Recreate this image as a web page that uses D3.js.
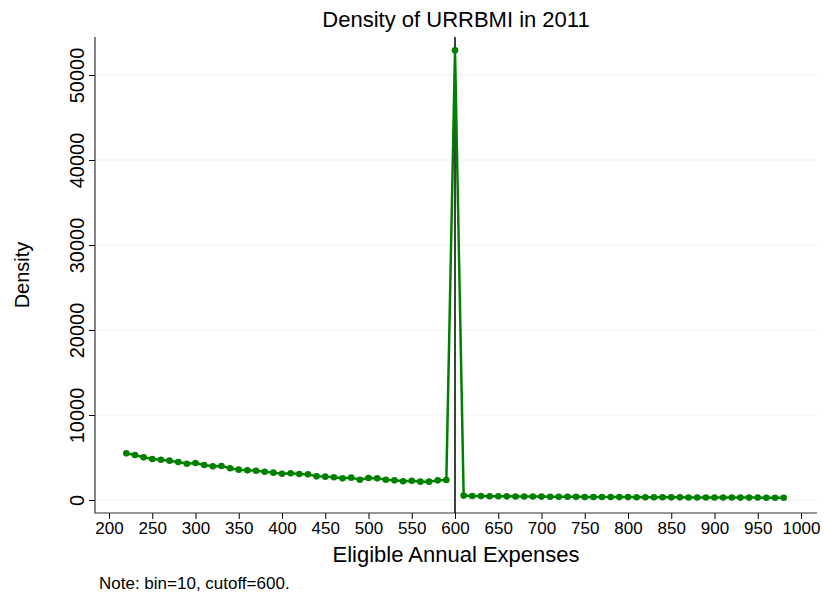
<!DOCTYPE html>
<meta charset="utf-8">
<style>
body { margin: 0; background: #fff; }
text { font-family: "Liberation Sans", Arial, sans-serif; fill: #000; }
.grid line { stroke: #eaf2f3; stroke-width: 1px; }
</style>
<svg width="825" height="597"></svg>
<script src="https://d3js.org/d3.v7.min.js"></script>
<script>

// bin midpoints (Eligible Annual Expenses)
var bins = [220, 230, 240, 250, 260, 270, 280, 290, 300, 310,
            320, 330, 340, 350, 360, 370, 380, 390, 400, 410,
            420, 430, 440, 450, 460, 470, 480, 490, 500, 510,
            520, 530, 540, 550, 560, 570, 580, 590, 600, 610,
            620, 630, 640, 650, 660, 670, 680, 690, 700, 710,
            720, 730, 740, 750, 760, 770, 780, 790, 800, 810,
            820, 830, 840, 850, 860, 870, 880, 890, 900, 910,
            920, 930, 940, 950, 960, 970, 980];

// density per bin
var density = [5490, 5290, 5020, 4820, 4740, 4630, 4470, 4270, 4350, 4120,
               3960, 4000, 3730, 3570, 3490, 3450, 3330, 3220, 3080, 3140,
               3060, 3020, 2780, 2750, 2670, 2550, 2630, 2390, 2590, 2550,
               2390, 2310, 2200, 2270, 2160, 2160, 2310, 2350, 52900, 520,
               470, 460, 450, 440, 430, 420, 420, 410, 400, 390,
               380, 380, 370, 360, 360, 350, 350, 340, 340, 330,
               330, 320, 320, 310, 310, 300, 300, 300, 290, 290,
               290, 280, 280, 280, 270, 270, 270];

var xTicks = [200, 250, 300, 350, 400, 450, 500, 550, 600, 650,
              700, 750, 800, 850, 900, 950, 1000];
var yTicks = [0, 10000, 20000, 30000, 40000, 50000];
var cutoff = 600;

var data = bins.map(function(b, i) { return {x: b, y: density[i]}; });

var svg = d3.select("svg");

var plot = {left: 95, right: 817, top: 37, bottom: 513};

var x = d3.scaleLinear().domain([200, 1000]).range([109, 801]),
    y = d3.scaleLinear().domain([0, 50000]).range([500, 75]);

// horizontal grid
svg.append("g")
    .attr("class", "grid")
  .selectAll("line")
  .data(yTicks)
  .enter().append("line")
    .attr("x1", plot.left + 1)
    .attr("x2", plot.right)
    .attr("y1", function(d) { return y(d); })
    .attr("y2", function(d) { return y(d); });

// y axis
var yAxis = svg.append("g")
    .attr("transform", "translate(" + plot.left + ",0)")
    .call(d3.axisLeft(y).tickValues(yTicks).tickSize(6).tickSizeOuter(0).tickFormat(d3.format("d")));
yAxis.select(".domain").remove();
yAxis.selectAll(".tick line").attr("stroke", "#000");
yAxis.selectAll(".tick text")
    .attr("font-size", 20)
    .attr("text-anchor", "middle")
    .attr("transform", "rotate(-90)")
    .attr("x", 0)
    .attr("y", -11)
    .attr("dy", 0);

// x axis
var xAxis = svg.append("g")
    .attr("transform", "translate(0," + plot.bottom + ")")
    .call(d3.axisBottom(x).tickValues(xTicks).tickSize(6).tickSizeOuter(0).tickFormat(d3.format("d")));
xAxis.select(".domain").remove();
xAxis.selectAll(".tick line").attr("stroke", "#000");
xAxis.selectAll(".tick text")
    .attr("font-size", 17)
    .attr("y", 9)
    .attr("dy", "0.71em");

// axis lines
svg.append("path")
    .attr("d", "M" + plot.left + "," + plot.top + "V" + plot.bottom + "H" + plot.right)
    .attr("fill", "none")
    .attr("stroke", "#333")
    .attr("stroke-width", 1.2);

// cutoff line
svg.append("line")
    .attr("x1", x(cutoff)).attr("x2", x(cutoff))
    .attr("y1", plot.top).attr("y2", plot.bottom)
    .attr("stroke", "#000")
    .attr("stroke-width", 1.5);

// density line + markers
var line = d3.line()
    .x(function(d) { return x(d.x); })
    .y(function(d) { return y(d.y); });

svg.append("path")
    .datum(data)
    .attr("d", line)
    .attr("fill", "none")
    .attr("stroke", "#008000")
    .attr("stroke-width", 2.5)
    .attr("stroke-linejoin", "round");

svg.append("g")
  .selectAll("circle")
  .data(data)
  .enter().append("circle")
    .attr("cx", function(d) { return x(d.x); })
    .attr("cy", function(d) { return y(d.y); })
    .attr("r", 3.3)
    .attr("fill", "#008000");

// titles
svg.append("text")
    .attr("x", 456).attr("y", 27)
    .attr("text-anchor", "middle")
    .attr("font-size", 22)
    .text("Density of URRBMI in 2011");

svg.append("text")
    .attr("x", 456).attr("y", 562)
    .attr("text-anchor", "middle")
    .attr("font-size", 22)
    .text("Eligible Annual Expenses");

svg.append("text")
    .attr("transform", "translate(29,275) rotate(-90)")
    .attr("text-anchor", "middle")
    .attr("font-size", 20)
    .text("Density");

svg.append("text")
    .attr("x", 99).attr("y", 589)
    .attr("font-size", 17)
    .text("Note: bin=10, cutoff=600.");

</script>
